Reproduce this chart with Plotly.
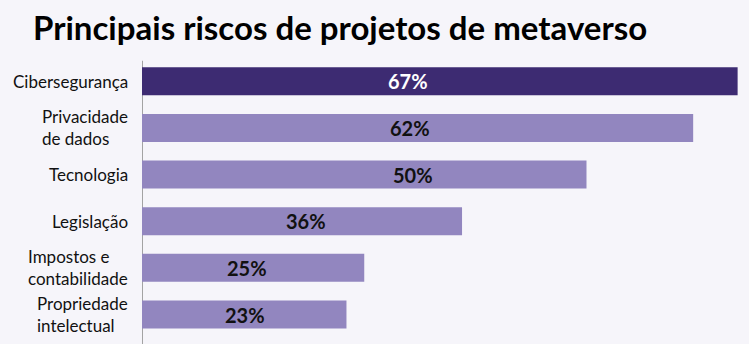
import plotly.graph_objects as go

categories = ["Cibersegurança", "Privacidade<br>de dados", "Tecnologia", "Legislação",
              "Impostos e<br>contabilidade", "Propriedade<br>intelectual"]
values = [67, 62, 50, 36, 25, 23]
value_labels = ["67%", "62%", "50%", "36%", "25%", "23%"]
label_anchor = [29.9, 30.2, 30.5, 18.4, 11.8, 11.6]

DARK = "#3d2b72"
LIGHT = "#9286bf"
BG = "#f6f5fa"
FONT = "Lato"

bar_colors = [DARK] + [LIGHT] * (len(values) - 1)
text_colors = ["#ffffff"] + ["#111111"] * (len(values) - 1)

fig = go.Figure(go.Bar(
    x=values, y=categories, orientation="h",
    marker=dict(color=bar_colors, line=dict(width=0)),
    width=0.6, hoverinfo="skip",
))

ann = []
for c, lab, ax, tc in zip(categories, value_labels, label_anchor, text_colors):
    ann.append(dict(x=ax, y=c, xref="x", yref="y", text=lab, showarrow=False,
                    font=dict(family=FONT, size=20, color=tc, weight="bold"),
                    xanchor="center", yanchor="middle"))
    ann.append(dict(x=0, y=c, xref="paper", yref="y", text=c, showarrow=False,
                    font=dict(family=FONT, size=17, color="#111111"),
                    xanchor="right", yanchor="middle", align="left", xshift=-12))

fig.update_layout(
    width=749, height=344,
    margin=dict(l=142, r=0, t=58, b=6),
    paper_bgcolor=BG, plot_bgcolor=BG,
    showlegend=False,
    title=dict(text="Principais riscos de projetos de metaverso",
               x=33 / 749, xanchor="left", xref="container",
               y=1 - 28 / 344, yanchor="middle", yref="container",
               font=dict(family=FONT, size=33, color="#000000", weight="bold")),
    annotations=ann,
    xaxis=dict(range=[0, 68.28], visible=False, fixedrange=True),
    yaxis=dict(autorange="reversed", showticklabels=False, showgrid=False,
               zeroline=False, showline=False, ticks=""),
    shapes=[dict(type="line", xref="x", yref="paper", x0=0, x1=0, y0=-0.03, y1=0.99,
                 line=dict(color="#a3a3a3", width=2), layer="below")],
)

fig.write_html("out.html")
